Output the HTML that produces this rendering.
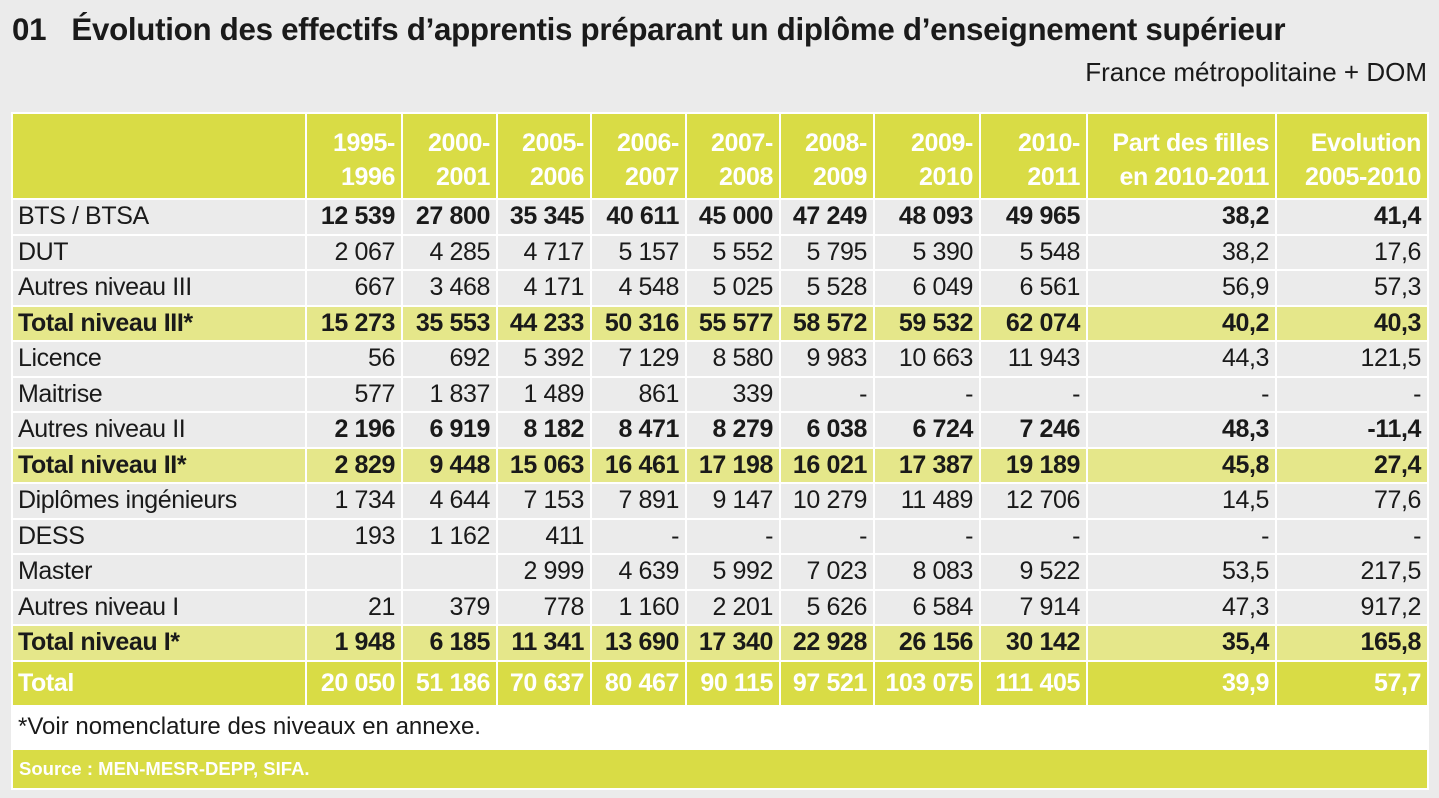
<!DOCTYPE html>
<html><head><meta charset="utf-8"><style>
body{margin:0;width:1439px;height:798px;background:#ebebeb;font-family:"Liberation Sans",Arial,sans-serif;position:relative;overflow:hidden;color:#1a1a1a}
.t{position:absolute;left:12px;top:12px;font-size:31.3px;font-weight:bold;letter-spacing:-0.3px}
.s{position:absolute;right:12px;top:57px;font-size:26px}
.box{position:absolute;left:11px;top:112px;width:1418px;height:678px;background:#fff}
table{position:absolute;left:0;top:0;border-collapse:separate;border-spacing:2px;table-layout:fixed}
td{padding:0 6px 0 5px;font-size:25px;text-align:right;background:#ebebeb;height:33.5px;white-space:nowrap;overflow:hidden;letter-spacing:-0.4px}
td:first-child{text-align:left}
tr.h td{background:#d9dc45;color:#fff;font-weight:bold;height:80px;line-height:34px;vertical-align:bottom;padding-bottom:4px}
tr.b td{font-weight:bold}
tr.tt td{background:#e5e78a;font-weight:bold}
tr.T td{background:#d9dc45;color:#fff;font-weight:bold;height:43px}
.f{position:absolute;left:7px;top:601px;font-size:24px}
.src{position:absolute;left:2px;top:638px;width:1414px;height:38px;background:#d9dc45;color:#fff;font-weight:bold;font-size:18.5px;line-height:38px;padding-left:6px;box-sizing:border-box}
</style></head><body>
<div class="t">01&nbsp;&nbsp; Évolution des effectifs d’apprentis préparant un diplôme d’enseignement supérieur</div>
<div class="s">France métropolitaine + DOM</div>
<div class="box">
<table>
<colgroup><col style="width:292px"><col style="width:94px"><col style="width:93px"><col style="width:92px"><col style="width:93px"><col style="width:92px"><col style="width:92px"><col style="width:104px"><col style="width:105px"><col style="width:187px"><col style="width:150px"></colgroup>
<tr class="h"><td></td><td>1995-<br>1996</td><td>2000-<br>2001</td><td>2005-<br>2006</td><td>2006-<br>2007</td><td>2007-<br>2008</td><td>2008-<br>2009</td><td>2009-<br>2010</td><td>2010-<br>2011</td><td>Part des filles<br>en 2010-2011</td><td>Evolution<br>2005-2010</td></tr>
<tr class="b"><td style="font-weight:normal">BTS / BTSA</td><td>12 539</td><td>27 800</td><td>35 345</td><td>40 611</td><td>45 000</td><td>47 249</td><td>48 093</td><td>49 965</td><td>38,2</td><td>41,4</td></tr>
<tr><td>DUT</td><td>2 067</td><td>4 285</td><td>4 717</td><td>5 157</td><td>5 552</td><td>5 795</td><td>5 390</td><td>5 548</td><td>38,2</td><td>17,6</td></tr>
<tr><td>Autres niveau III</td><td>667</td><td>3 468</td><td>4 171</td><td>4 548</td><td>5 025</td><td>5 528</td><td>6 049</td><td>6 561</td><td>56,9</td><td>57,3</td></tr>
<tr class="tt"><td>Total niveau III*</td><td>15 273</td><td>35 553</td><td>44 233</td><td>50 316</td><td>55 577</td><td>58 572</td><td>59 532</td><td>62 074</td><td>40,2</td><td>40,3</td></tr>
<tr><td>Licence</td><td>56</td><td>692</td><td>5 392</td><td>7 129</td><td>8 580</td><td>9 983</td><td>10 663</td><td>11 943</td><td>44,3</td><td>121,5</td></tr>
<tr><td>Maitrise</td><td>577</td><td>1 837</td><td>1 489</td><td>861</td><td>339</td><td>-</td><td>-</td><td>-</td><td>-</td><td>-</td></tr>
<tr class="b"><td style="font-weight:normal">Autres niveau II</td><td>2 196</td><td>6 919</td><td>8 182</td><td>8 471</td><td>8 279</td><td>6 038</td><td>6 724</td><td>7 246</td><td>48,3</td><td>-11,4</td></tr>
<tr class="tt"><td>Total niveau II*</td><td>2 829</td><td>9 448</td><td>15 063</td><td>16 461</td><td>17 198</td><td>16 021</td><td>17 387</td><td>19 189</td><td>45,8</td><td>27,4</td></tr>
<tr><td>Diplômes ingénieurs</td><td>1 734</td><td>4 644</td><td>7 153</td><td>7 891</td><td>9 147</td><td>10 279</td><td>11 489</td><td>12 706</td><td>14,5</td><td>77,6</td></tr>
<tr><td>DESS</td><td>193</td><td>1 162</td><td>411</td><td>-</td><td>-</td><td>-</td><td>-</td><td>-</td><td>-</td><td>-</td></tr>
<tr><td>Master</td><td></td><td></td><td>2 999</td><td>4 639</td><td>5 992</td><td>7 023</td><td>8 083</td><td>9 522</td><td>53,5</td><td>217,5</td></tr>
<tr><td>Autres niveau I</td><td>21</td><td>379</td><td>778</td><td>1 160</td><td>2 201</td><td>5 626</td><td>6 584</td><td>7 914</td><td>47,3</td><td>917,2</td></tr>
<tr class="tt"><td>Total niveau I*</td><td>1 948</td><td>6 185</td><td>11 341</td><td>13 690</td><td>17 340</td><td>22 928</td><td>26 156</td><td>30 142</td><td>35,4</td><td>165,8</td></tr>
<tr class="T"><td>Total</td><td>20 050</td><td>51 186</td><td>70 637</td><td>80 467</td><td>90 115</td><td>97 521</td><td>103 075</td><td>111 405</td><td>39,9</td><td>57,7</td></tr>
</table>
<div class="f">*Voir nomenclature des niveaux en annexe.</div>
<div class="src">Source : MEN-MESR-DEPP, SIFA.</div>
</div>
</body></html>
